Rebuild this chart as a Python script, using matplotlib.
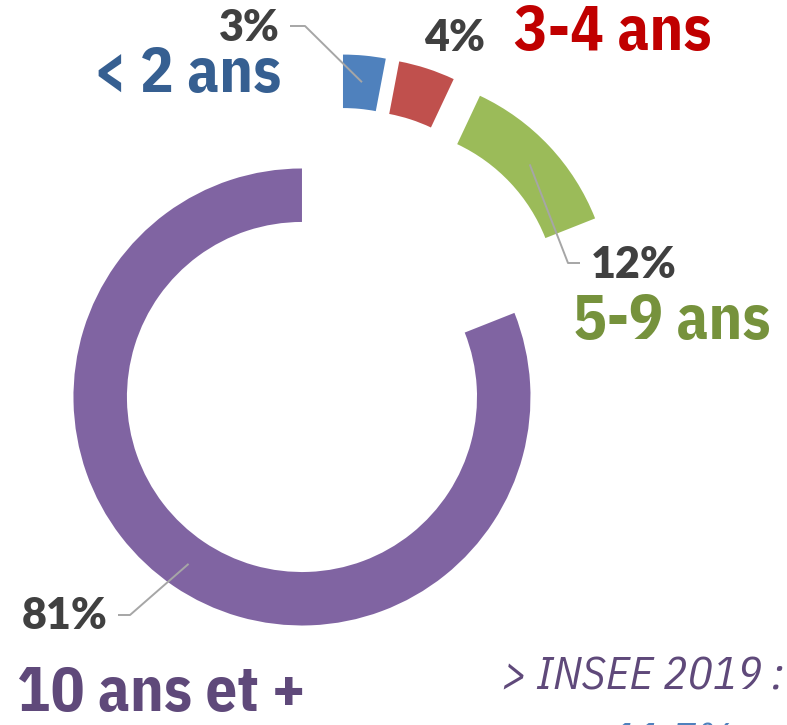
import numpy as np
import matplotlib.pyplot as plt

# donnees
categories = ["10 ans et +", "5-9 ans", "3-4 ans", "< 2 ans"]
shares = [81, 12, 4, 3]
pct_labels = ["81%", "12%", "4%", "3%"]
colors = ["#8064A2", "#9BBB59", "#C0504D", "#4F81BD"]
label_colors = ["#5F497A", "#76923C", "#C00000", "#365F91"]
note_line1 = "> INSEE 2019 :"
note_line2 = "11,7%"

W, H = 787, 725
R_PX = 228.5          # rayon exterieur en pixels
CX, CY = 337.1, 345.3  # centre (avant explosion) en pixels
EXPLODE = 0.2735
RING = 0.234

narrow = ["IBM Plex Sans Condensed", "Liberation Sans", "DejaVu Sans"]
pct_font = ["Lato", "DejaVu Sans"]


def px(x, y):
    # pixels de l'image -> coordonnees des donnees
    return (x - CX) / R_PX, (CY - y) / R_PX


def fig_xy(x, y):
    return x / W, 1 - y / H


fig = plt.figure(figsize=(W / 100, H / 100), dpi=100)
ax = fig.add_axes([0, 0, 1, 1])

wedges, _ = ax.pie(shares, radius=1, startangle=90, counterclock=True,
                   colors=colors, explode=[EXPLODE] * len(shares),
                   wedgeprops=dict(width=RING, linewidth=0))
ax.set_xlim(-CX / R_PX, (W - CX) / R_PX)
ax.set_ylim(-(H - CY) / R_PX, CY / R_PX)
ax.axis("off")

# lignes de rappel : (coude, fin) en pixels, None = pas de ligne
leaders = [((130, 615), (118, 615)),
           ((568, 263), (580, 263)),
           None,
           ((305, 26), (290, 26))]
for w, ld in zip(wedges, leaders):
    if ld is None:
        continue
    t = np.deg2rad((w.theta1 + w.theta2) / 2)
    r_mid = w.r - RING / 2
    x0 = w.center[0] + r_mid * np.cos(t)
    y0 = w.center[1] + r_mid * np.sin(t)
    (ex, ey), (fx, fy) = px(*ld[0]), px(*ld[1])
    ax.plot([x0, ex, fx], [y0, ey, fy], color="#A6A6A6", lw=1.4,
            solid_capstyle="butt")

# pourcentages
pct_pos = [(65, 616), (634, 265), (455, 38), (249, 28)]
for lab, (x, y) in zip(pct_labels, pct_pos):
    fig.text(*fig_xy(x, y), lab, family=pct_font, fontweight=800,
             fontsize=31, color="#404040", ha="center", va="center")

# noms des tranches
cat_pos = [(161, 694), (672, 322), (613, 33), (187, 75)]
for lab, c, (x, y) in zip(categories, label_colors, cat_pos):
    fig.text(*fig_xy(x, y), lab, family=narrow, fontweight="bold",
             fontsize=45, color=c, ha="center", va="center")

# note en bas a droite (coupee par le bord, comme dans l'original)
fig.text(*fig_xy(502, 677), note_line1, family=narrow, style="italic",
         fontsize=33, color="#5F497A", ha="left", va="center")
fig.text(*fig_xy(610, 721), note_line2, family=narrow, style="italic",
         fontsize=33, color="#4F81BD", ha="left", va="top")

fig.savefig("out.png", dpi=100)
